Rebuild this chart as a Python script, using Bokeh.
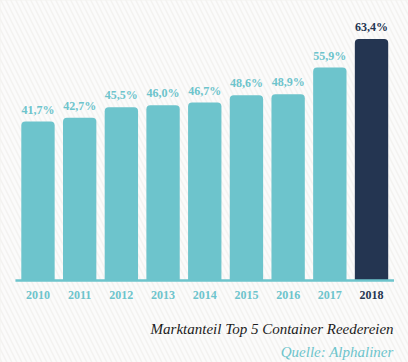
from bokeh.plotting import figure
from bokeh.models import ColumnDataSource, Range1d
from bokeh.core.properties import value
from bokeh.embed import file_html
from bokeh.resources import INLINE

years = [2010, 2011, 2012, 2013, 2014, 2015, 2016, 2017, 2018]
year_labels = ["2010", "2011", "2012", "2013", "2014", "2015", "2016", "2017", "2018"]
shares = [41.7, 42.7, 45.5, 46.0, 46.7, 48.6, 48.9, 55.9, 63.4]
share_labels = ["41,7%", "42,7%", "45,5%", "46,0%", "46,7%", "48,6%", "48,9%", "55,9%", "63,4%"]
title_text = "Marktanteil Top 5 Container Reedereien"
source_text = "Quelle: Alphaliner"

TEAL = "#6dc4cc"
NAVY = "#243551"
BG = "#f3f2f0"
colors = [TEAL] * (len(years) - 1) + [NAVY]

src = ColumnDataSource(dict(x=years, top=shares, lab=share_labels,
                            ylab=year_labels, color=colors, zero=[0] * len(years)))

p = figure(width=408, height=362, output_backend="svg", toolbar_location=None,
           x_range=Range1d(2009.101, 2018.887), y_range=Range1d(-21.52, 73.49),
           min_border=0, min_border_left=0, min_border_right=0,
           min_border_top=0, min_border_bottom=0)
p.axis.visible = False
p.grid.visible = False
p.outline_line_color = None
p.background_fill_color = BG
p.border_fill_color = BG

# subtle diagonal stripes
p.quad(left=[2008.5], right=[2019.5], bottom=[-30.0], top=[80.0],
       fill_color=BG, line_color=None, hatch_pattern="\\", hatch_color="#ffffff",
       hatch_alpha=0.7, hatch_scale=10, hatch_weight=3)

p.vbar(x="x", top="top", bottom=0, width=0.8, fill_color="color", line_color=None,
       border_radius=(4, 4, 0, 0), source=src)

# baseline
p.segment(x0=[min(years) - 0.54], x1=[max(years) + 0.54], y0=[0], y1=[0],
          line_color=TEAL, line_width=2.5)

p.text(x="x", y="top", text="lab", source=src, text_color="color",
       text_font=value("Liberation Serif"), text_font_style="bold",
       text_font_size="12px", text_align="center", text_baseline="alphabetic",
       y_offset=-12)

p.text(x="x", y="zero", text="ylab", source=src, text_color="color",
       text_font=value("Liberation Serif"), text_font_style="bold",
       text_font_size="12px", text_align="center", text_baseline="middle",
       y_offset=14)

p.text(x=[max(years) + 0.53], y=[0], text=[title_text], text_color="#1c1c1c",
       text_font=value("Liberation Serif"), text_font_style="italic",
       text_font_size="15px", text_align="right", text_baseline="alphabetic",
       y_offset=48)

p.text(x=[max(years) + 0.53], y=[0], text=[source_text], text_color=TEAL,
       text_font=value("Liberation Serif"), text_font_style="italic",
       text_font_size="15px", text_align="right", text_baseline="alphabetic",
       y_offset=71)

html = file_html(p, INLINE).replace(
    "<head>", "<head><style>html,body{margin:0;padding:0;background:%s;}</style>" % BG, 1)
open("out.html", "w").write(html)
